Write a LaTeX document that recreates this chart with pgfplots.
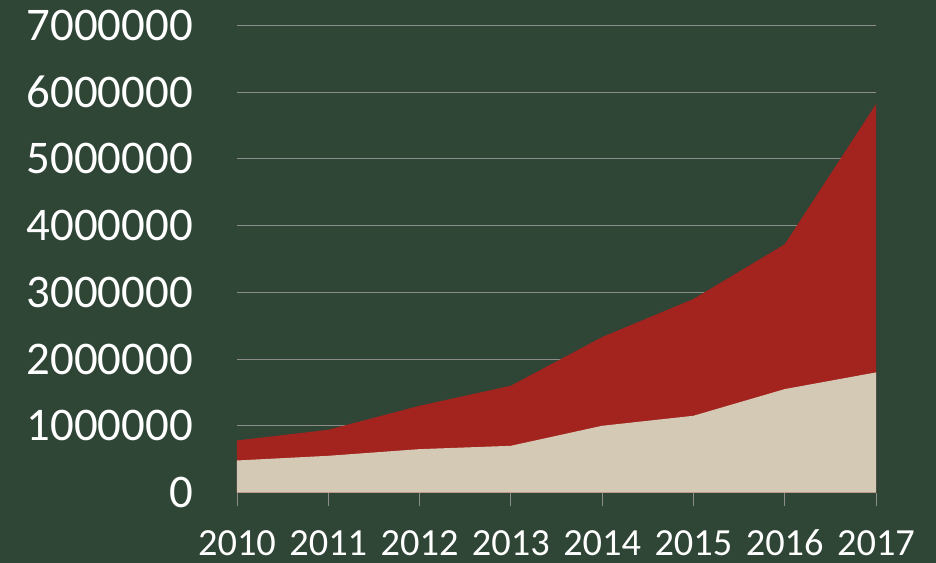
\documentclass[border=0pt]{standalone}
\usepackage{pgfplots}
\pgfplotsset{compat=1.18}
\usepackage{fontspec}
\setmainfont{Carlito}
\usetikzlibrary{backgrounds}
\definecolor{bgc}{RGB}{47,69,53}
\definecolor{redc}{RGB}{163,35,31}
\definecolor{beigec}{RGB}{212,201,181}
\definecolor{gridc}{RGB}{140,140,140}
\begin{document}
\begin{tikzpicture}
\begin{axis}[
  scale only axis,
  width=639bp, height=467bp,
  at={(0,0)}, anchor=south west,
  xmin=2010, xmax=2017,
  ymin=0, ymax=7000000,
  xtick={2010,2011,2012,2013,2014,2015,2016,2017},
  ytick={0,1000000,2000000,3000000,4000000,5000000,6000000,7000000},
  scaled y ticks=false,
  /pgf/number format/assume math mode=true,
  xticklabel={\pgfmathprintnumber[fixed,precision=0,1000 sep={}]{\tick}},
  yticklabel={\pgfmathprintnumber[fixed,precision=0,1000 sep={}]{\tick}},
  axis x line*=bottom,
  axis y line*=left,
  y axis line style={draw=none},
  x axis line style={draw=gridc, line width=0.8bp, -},
  ymajorgrids,
  grid style={draw=gridc, line width=0.9bp},
  tick align=outside,
  xtick style={draw=gridc, line width=0.8bp},
  major tick length=13bp,
  ytick style={draw=none},
  xticklabel style={font=\fontsize{38.5}{40}\selectfont, text=white, inner sep=0pt, anchor=north, text height=25bp, text depth=0pt, yshift=-25bp},
  yticklabel style={font=\fontsize{47}{50}\selectfont, text=white, inner sep=0pt, anchor=east, xshift=-31bp},
  clip=false,
]
\addplot[fill=redc, draw=none] coordinates {
  (2010,780000) (2011,940000) (2012,1300000) (2013,1600000)
  (2014,2330000) (2015,2900000) (2016,3720000) (2017,5820000)
} \closedcycle;
\addplot[fill=beigec, draw=none] coordinates {
  (2010,480000) (2011,550000) (2012,650000) (2013,700000)
  (2014,1000000) (2015,1150000) (2016,1550000) (2017,1800000)
} \closedcycle;
\end{axis}
\begin{scope}[on background layer]
\fill[bgc] (-237bp,-70.5bp) rectangle (699bp,492.5bp);
\end{scope}
\pgfresetboundingbox
\path (-237bp,-70.5bp) rectangle (699bp,492.5bp);
\end{tikzpicture}
\end{document}
